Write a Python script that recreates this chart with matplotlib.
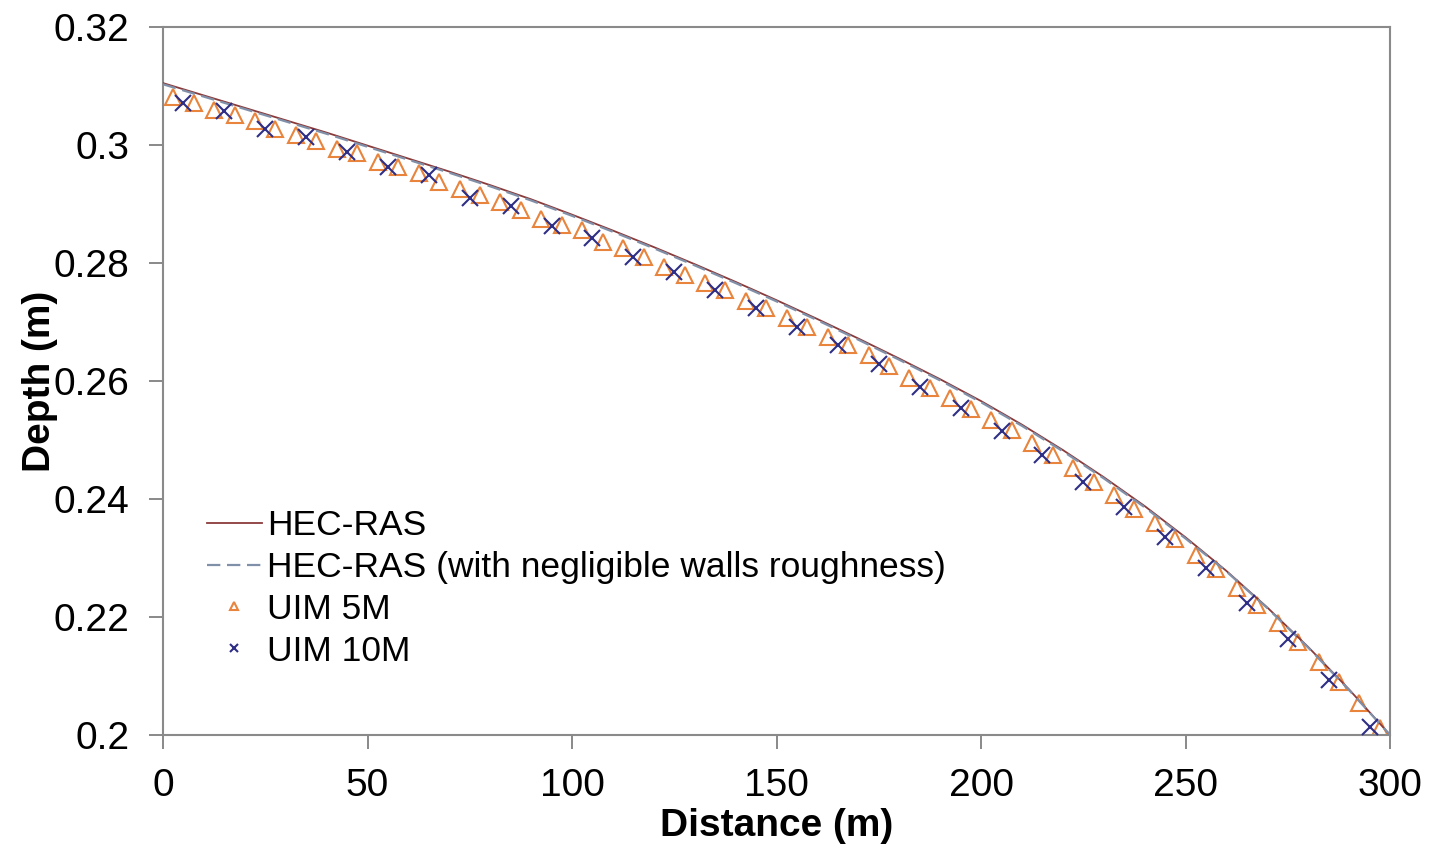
import matplotlib.pyplot as plt

plt.rcParams['font.family'] = ['Liberation Sans', 'DejaVu Sans']

# HEC-RAS water surface profile (every 10 m)
x_hec = [0, 10, 20, 30, 40, 50, 60, 70, 80, 90, 100, 110, 120, 130, 140, 150,
         160, 170, 180, 190, 200, 210, 220, 230, 240, 250, 260, 270, 280, 290, 300]
d_hec = [0.3105, 0.3084, 0.3063, 0.3042, 0.3021, 0.2999, 0.2977, 0.2955, 0.2932,
         0.2908, 0.2882, 0.2855, 0.2827, 0.2798, 0.2768, 0.2737, 0.2705, 0.2672,
         0.2638, 0.2603, 0.2566, 0.2526, 0.2483, 0.2437, 0.2388, 0.2335, 0.2278,
         0.2216, 0.2149, 0.2077, 0.2000]
# HEC-RAS with negligible walls roughness
d_hec_smooth = [0.3103, 0.3082, 0.3061, 0.3040, 0.3019, 0.2997, 0.2975, 0.2953,
                0.2930, 0.2906, 0.2880, 0.2853, 0.2825, 0.2796, 0.2766, 0.2735,
                0.2703, 0.2670, 0.2636, 0.2601, 0.2564, 0.2524, 0.2481, 0.2435,
                0.2386, 0.2333, 0.2277, 0.2215, 0.2148, 0.2076, 0.2000]

# UIM 5 m grid (cell centres)
x_5m = [2.5, 7.5, 12.5, 17.5, 22.5, 27.5, 32.5, 37.5, 42.5, 47.5, 52.5, 57.5,
        62.5, 67.5, 72.5, 77.5, 82.5, 87.5, 92.5, 97.5, 102.5, 107.5, 112.5, 117.5,
        122.5, 127.5, 132.5, 137.5, 142.5, 147.5, 152.5, 157.5, 162.5, 167.5, 172.5,
        177.5, 182.5, 187.5, 192.5, 197.5, 202.5, 207.5, 212.5, 217.5, 222.5, 227.5,
        232.5, 237.5, 242.5, 247.5, 252.5, 257.5, 262.5, 267.5, 272.5, 277.5, 282.5,
        287.5, 292.5, 297.5]
d_5m = [0.3081, 0.3072, 0.3059, 0.3051, 0.3041, 0.3028, 0.3017, 0.3007, 0.2994,
        0.2986, 0.2972, 0.2962, 0.2952, 0.2938, 0.2926, 0.2915, 0.2904, 0.2890,
        0.2875, 0.2864, 0.2856, 0.2836, 0.2825, 0.2810, 0.2794, 0.2780, 0.2766,
        0.2754, 0.2736, 0.2723, 0.2706, 0.2692, 0.2674, 0.2661, 0.2644, 0.2626,
        0.2605, 0.2588, 0.2571, 0.2552, 0.2534, 0.2517, 0.2495, 0.2475, 0.2452,
        0.2429, 0.2407, 0.2383, 0.2359, 0.2333, 0.2305, 0.2281, 0.2250, 0.2220,
        0.2189, 0.2158, 0.2124, 0.2090, 0.2054, 0.2012]

# UIM 10 m grid (cell centres)
x_10m = [5, 15, 25, 35, 45, 55, 65, 75, 85, 95, 105, 115, 125, 135, 145, 155,
         165, 175, 185, 195, 205, 215, 225, 235, 245, 255, 265, 275, 285, 295]
d_10m = [0.3072, 0.3058, 0.3028, 0.3014, 0.2989, 0.2963, 0.2949, 0.2910, 0.2897,
         0.2862, 0.2842, 0.2811, 0.2785, 0.2754, 0.2723, 0.2692, 0.2661, 0.2629,
         0.2590, 0.2555, 0.2516, 0.2475, 0.2429, 0.2386, 0.2336, 0.2283, 0.2224,
         0.2162, 0.2093, 0.2014]

x_ticks = [0, 50, 100, 150, 200, 250, 300]
y_ticks = [0.2, 0.22, 0.24, 0.26, 0.28, 0.3, 0.32]
y_labels = ['0.2', '0.22', '0.24', '0.26', '0.28', '0.3', '0.32']

fig = plt.figure(figsize=(14.45, 8.5), dpi=100)
ax = fig.add_axes([0.1128, 0.1353, 0.8492, 0.8329])

ax.plot(x_hec, d_hec, color='#8B3A3A', lw=1.3, label='HEC-RAS', zorder=3)
ax.plot(x_hec, d_hec_smooth, color='#8090A8', lw=1.6, dashes=(6, 3),
        label='HEC-RAS (with negligible walls roughness)', zorder=3)
ax.plot(x_5m, d_5m, ls='none', marker='^', ms=11, mfc='none', mec='#E8843C',
        mew=1.5, label='UIM 5M', zorder=2)
ax.plot(x_10m, d_10m, ls='none', marker='x', ms=11, mec='#2E2E86',
        mew=1.5, label='UIM 10M', zorder=4)

ax.set_xlim(0, 300)
ax.set_ylim(0.2, 0.32)
ax.set_xticks(x_ticks)
ax.set_yticks(y_ticks)
ax.set_yticklabels(y_labels)
ax.tick_params(labelsize=28, length=10, width=1.3, color='#808080', pad=14)

for s in ax.spines.values():
    s.set_color('#8A8A8A')
    s.set_linewidth(1.5)

ax.set_xlabel('Distance (m)', fontsize=28, fontweight='bold', labelpad=3)
ax.set_ylabel('Depth (m)', fontsize=28, fontweight='bold', labelpad=-3)

ax.legend(loc='upper left', bbox_to_anchor=(0.024, 0.339), frameon=False,
          fontsize=25.5, handlelength=1.55, handletextpad=0.15, labelspacing=0.25,
          markerscale=0.55, borderaxespad=0)

fig.savefig('out.png', dpi=100)
